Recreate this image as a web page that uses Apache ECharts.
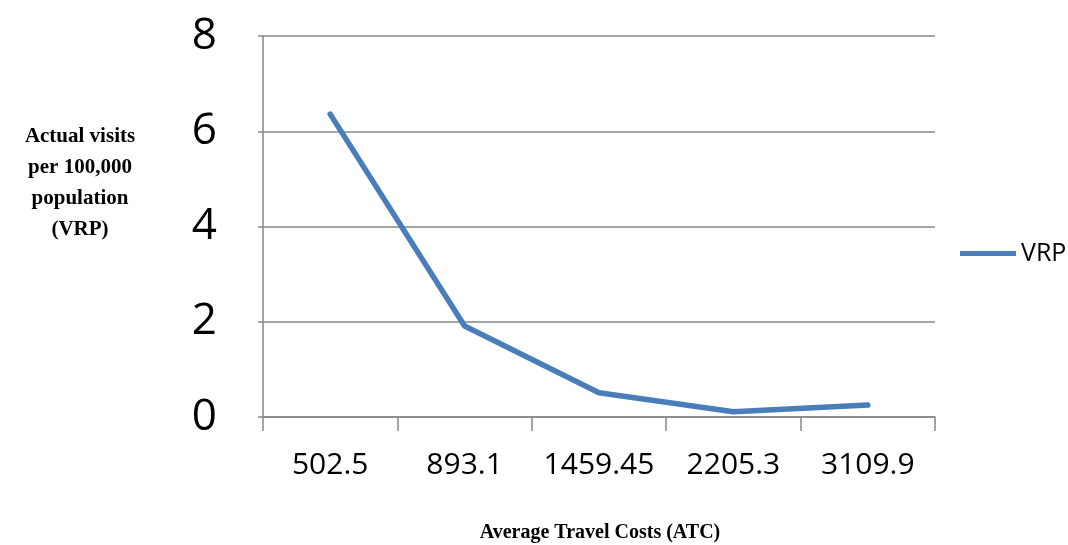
<!DOCTYPE html>
<html>
<head>
<meta charset="utf-8">
<script src="https://cdn.jsdelivr.net/npm/echarts@6/dist/echarts.min.js"></script>
<style>html,body{margin:0;padding:0;background:#fff}#c{width:1068px;height:545px}</style>
</head>
<body>
<div id="c"></div>
<script>
const categories = ['502.5', '893.1', '1459.45', '2205.3', '3109.9'];
const vrpValues = [6.36, 1.91, 0.51, 0.11, 0.25];
const yTicks = [0, 2, 4, 6, 8];
const seriesName = 'VRP';
const xTitle = 'Average Travel Costs (ATC)';
const yTitle = 'Actual visits\nper 100,000\npopulation\n(VRP)';

const chart = echarts.init(document.getElementById('c'), null, {renderer: 'canvas'});
chart.setOption({
  animation: false,
  backgroundColor: '#ffffff',
  grid: {left: 263, right: 133, top: 36, bottom: 128, containLabel: false},
  legend: {
    data: [seriesName],
    left: 955, top: 236,
    itemWidth: 56, itemHeight: 14, itemGap: 3,
    icon: 'path://M0,0 L56,0 L56,5 L0,5 Z',
    textStyle: {fontFamily: 'Open Sans', fontSize: 25, color: '#000'}
  },
  graphic: [
    {type: 'text', position: [80, 183], style: {
      text: yTitle, align: 'center', verticalAlign: 'middle',
      font: 'bold 21px "Liberation Serif"', fill: '#000', lineHeight: 31
    }},
    {type: 'text', position: [600, 533], style: {
      text: xTitle, align: 'center', verticalAlign: 'middle',
      font: 'bold 20px "Liberation Serif"', fill: '#000'
    }}
  ],
  xAxis: {
    type: 'category',
    data: categories,
    boundaryGap: true,
    axisLine: {show: true, lineStyle: {color: '#868686', width: 1.5}},
    axisTick: {show: true, length: 14, inside: false, lineStyle: {color: '#868686', width: 1.5}},
    axisLabel: {interval: 0, fontFamily: 'Open Sans', fontSize: 30, color: '#000', margin: 33}
  },
  yAxis: {
    type: 'value',
    min: yTicks[0], max: yTicks[yTicks.length - 1], interval: 2,
    axisLine: {show: true, lineStyle: {color: '#868686', width: 1.5}},
    axisTick: {show: true, length: 5, lineStyle: {color: '#868686', width: 1.5}},
    splitLine: {show: true, lineStyle: {color: '#868686', width: 1.5}},
    axisLabel: {fontFamily: 'Open Sans', fontSize: 44, color: '#000', margin: 46}
  },
  series: [{
    name: seriesName,
    type: 'line',
    data: vrpValues,
    symbol: 'none',
    lineStyle: {color: '#4a7ebb', width: 5.5, cap: 'round', join: 'round'},
    itemStyle: {color: '#4a7ebb'}
  }]
});
</script>
</body>
</html>
